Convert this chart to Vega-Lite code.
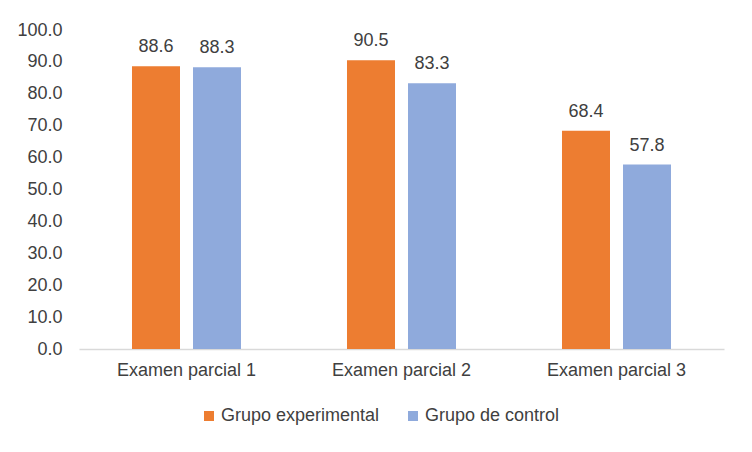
{
  "$schema": "https://vega.github.io/schema/vega-lite/v6.json",
  "width": 645,
  "height": 319,
  "autosize": {"type": "none"},
  "padding": {"left": 79, "top": 30, "right": 28, "bottom": 103},
  "background": "#ffffff",
  "data": {
    "values": [
      {"examen": "Examen parcial 1", "grupo": "Grupo experimental", "nota": 88.6},
      {"examen": "Examen parcial 1", "grupo": "Grupo de control", "nota": 88.3},
      {"examen": "Examen parcial 2", "grupo": "Grupo experimental", "nota": 90.5},
      {"examen": "Examen parcial 2", "grupo": "Grupo de control", "nota": 83.3},
      {"examen": "Examen parcial 3", "grupo": "Grupo experimental", "nota": 68.4},
      {"examen": "Examen parcial 3", "grupo": "Grupo de control", "nota": 57.8}
    ]
  },
  "encoding": {
    "x": {
      "field": "examen",
      "type": "nominal",
      "title": null,
      "scale": {"paddingInner": 0.493, "paddingOuter": 0.2465},
      "axis": {"labelAngle": 0, "ticks": false, "domainColor": "#d9d9d9", "domainWidth": 1.5, "labelPadding": 12}
    },
    "xOffset": {
      "field": "grupo",
      "type": "nominal",
      "sort": ["Grupo experimental", "Grupo de control"],
      "scale": {"paddingInner": 0.213, "paddingOuter": 0}
    },
    "y": {
      "field": "nota",
      "type": "quantitative",
      "title": null,
      "scale": {"domain": [0, 100]},
      "axis": {"grid": false, "domain": false, "ticks": false, "tickCount": 10, "format": ".1f", "labelPadding": 17}
    }
  },
  "layer": [
    {
      "mark": {"type": "bar"},
      "encoding": {
        "color": {
          "field": "grupo",
          "type": "nominal",
          "sort": ["Grupo experimental", "Grupo de control"],
          "scale": {"domain": ["Grupo experimental", "Grupo de control"], "range": ["#ed7d31", "#8faadc"]},
          "legend": {
            "title": null,
            "orient": "none",
            "direction": "horizontal",
            "legendX": 121,
            "legendY": 377,
            "symbolType": "square",
            "symbolSize": 100,
            "symbolStrokeWidth": 0,
            "labelOffset": 3,
            "columnPadding": 24,
            "padding": 0
          }
        }
      }
    },
    {
      "mark": {"type": "text", "baseline": "alphabetic", "dy": -14, "color": "#404040", "fontSize": 18},
      "encoding": {
        "text": {"field": "nota", "type": "quantitative", "format": ".1f"}
      }
    }
  ],
  "config": {
    "font": "Liberation Sans",
    "view": {"stroke": null},
    "axis": {"labelFont": "Liberation Sans", "labelFontSize": 18, "labelColor": "#404040"},
    "legend": {"labelFont": "Liberation Sans", "labelFontSize": 18, "labelColor": "#404040"}
  }
}
